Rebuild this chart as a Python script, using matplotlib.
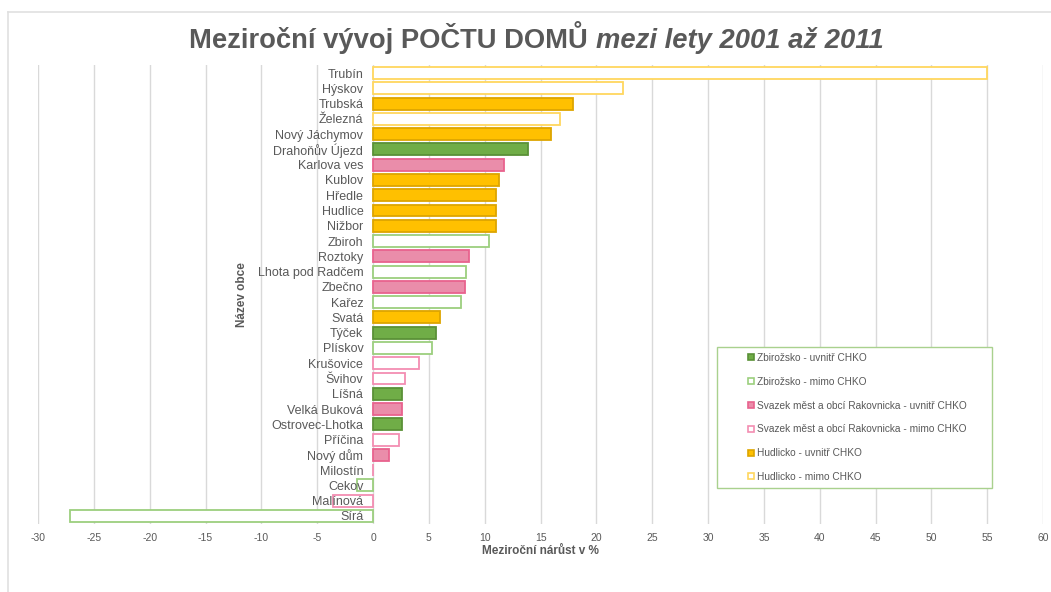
import matplotlib
matplotlib.use("Agg")
from matplotlib import pyplot as plt
from matplotlib.lines import Line2D

# data, top to bottom
obce = ["Trubín", "Hýskov", "Trubská", "Železná", "Nový Jáchymov", "Drahoňův Újezd",
        "Karlova ves", "Kublov", "Hředle", "Hudlice", "Nižbor", "Zbiroh", "Roztoky",
        "Lhota pod Radčem", "Zbečno", "Kařez", "Svatá", "Týček", "Plískov", "Krušovice",
        "Švihov", "Líšná", "Velká Buková", "Ostrovec-Lhotka", "Příčina", "Nový dům",
        "Milostín", "Cekov", "Malínová", "Sírá"]
narust = [55.0, 22.4, 17.9, 16.7, 15.9, 13.9,
          11.7, 11.3, 11.0, 11.0, 11.0, 10.4, 8.6,
          8.3, 8.2, 7.9, 6.0, 5.6, 5.3, 4.1,
          2.9, 2.6, 2.6, 2.6, 2.3, 1.4,
          0.0, -1.4, -3.6, -27.1]
skupina = ["hud_m", "hud_m", "hud_u", "hud_m", "hud_u", "zbi_u",
           "rak_u", "hud_u", "hud_u", "hud_u", "hud_u", "zbi_m", "rak_u",
           "zbi_m", "rak_u", "zbi_m", "hud_u", "zbi_u", "zbi_m", "rak_m",
           "rak_m", "zbi_u", "rak_u", "zbi_u", "rak_m", "rak_u",
           "rak_m", "zbi_m", "rak_m", "zbi_m"]
legenda = [("zbi_u", "Zbirožsko - uvnitř CHKO"),
           ("zbi_m", "Zbirožsko - mimo CHKO"),
           ("rak_u", "Svazek měst a obcí Rakovnicka - uvnitř CHKO"),
           ("rak_m", "Svazek měst a obcí Rakovnicka - mimo CHKO"),
           ("hud_u", "Hudlicko - uvnitř CHKO"),
           ("hud_m", "Hudlicko - mimo CHKO")]
x_ticks = list(range(-30, 61, 5))

# (fill, edge)
styl = {"zbi_u": ("#70AD47", "#5A9137"),
        "zbi_m": ("white", "#9CCF7E"),
        "rak_u": ("#EA8DAA", "#E8628E"),
        "rak_m": ("white", "#F38DB2"),
        "hud_u": ("#FFC000", "#DDA500"),
        "hud_m": ("white", "#FFD75E")}

GRAY = "#595959"
plt.rcParams["font.family"] = ["Liberation Sans", "DejaVu Sans"]
plt.rcParams["axes.unicode_minus"] = False

fig = plt.figure(figsize=(10.51, 5.92), dpi=100)
ax = fig.add_axes([0.0362, 0.1155, 0.9563, 0.774])

pos = list(range(len(obce)))
ax.barh(pos, narust, height=0.78,
        color=[styl[s][0] for s in skupina],
        edgecolor=[styl[s][1] for s in skupina], linewidth=1.3, zorder=2)

ax.set_xlim(-30, 60)
ax.set_ylim(len(obce) - 0.5, -0.5)
ax.set_xticks(x_ticks)
ax.set_yticks(pos)
ax.set_yticklabels(obce)
ax.tick_params(axis="both", length=0, colors=GRAY)
ax.tick_params(axis="y", labelsize=9, pad=7)
ax.tick_params(axis="x", labelsize=7.5, pad=7)
for sp in ax.spines.values():
    sp.set_visible(False)
ax.spines["left"].set_position(("data", 0))

# grid behind the bars, names of obce above them
ax.set_axisbelow(True)
ax.grid(axis="x", color="#D9D9D9", linewidth=1)
ax.yaxis.set_zorder(3)

ax.set_xlabel("Meziroční nárůst v %", fontsize=8.5, fontweight="bold", color=GRAY, labelpad=1)
ax.set_ylabel("Název obce", fontsize=8.5, fontweight="bold", color=GRAY, labelpad=7)

# title in two styles
t1 = fig.text(0.18, 0.937, "Meziroční vývoj POČTU DOMŮ ", fontsize=19.7,
              fontweight="bold", color=GRAY, va="center", ha="left")
fig.canvas.draw()
ax.annotate("mezi lety 2001 až 2011", xy=(1, 0), xycoords=t1, va="bottom", ha="left",
            fontsize=19.7, fontweight="bold", fontstyle="italic", color=GRAY)

handles = [Line2D([], [], marker="s", linestyle="none", markersize=5,
                  markerfacecolor=styl[k][0], markeredgecolor=styl[k][1],
                  markeredgewidth=1.2) for k, _ in legenda]
leg = ax.legend(handles, [t for _, t in legenda], loc="lower left",
                bbox_to_anchor=(0.6822, 0.1757, 0.2617, 0.2416),
                bbox_transform=fig.transFigure, mode="expand", borderaxespad=0,
                fontsize=7.3, labelcolor=GRAY, fancybox=False, framealpha=1,
                borderpad=0.6, labelspacing=1.36, handlelength=5.6,
                handletextpad=-2.3)
leg.get_frame().set_edgecolor("#A9D18E")
leg.get_frame().set_linewidth(1)

# chart border
fig.add_artist(Line2D([8 / 1051, 1], [1 - 12 / 592, 1 - 12 / 592], transform=fig.transFigure,
                      color="#E0E0E0", linewidth=1.2))
fig.add_artist(Line2D([8 / 1051, 8 / 1051], [0, 1 - 12 / 592], transform=fig.transFigure,
                      color="#E0E0E0", linewidth=1.2))

fig.savefig("out.png", dpi=100)
